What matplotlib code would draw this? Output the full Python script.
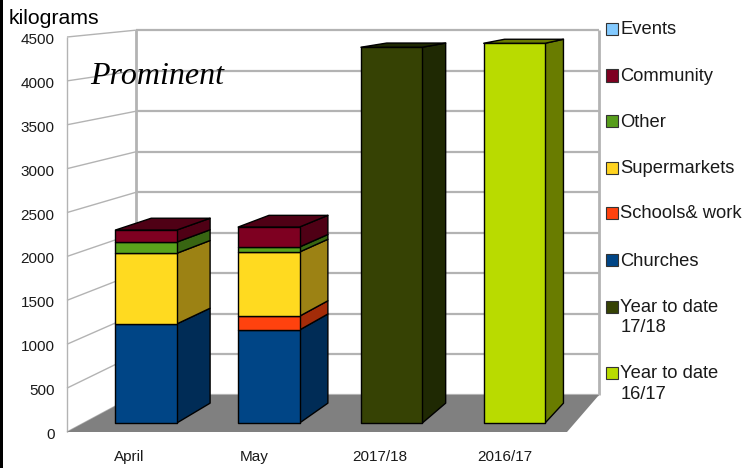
import matplotlib
matplotlib.use('Agg')
import matplotlib.pyplot as plt
from matplotlib.patches import Polygon, Rectangle
from matplotlib.transforms import ScaledTranslation

months = ['April', 'May', '2017/18', '2016/17']
y_ticks = [0, 500, 1000, 1500, 2000, 2500, 3000, 3500, 4000, 4500]

# stacked from the bottom up
churches = [1150, 1080, 0, 0]
schools = [0, 160, 0, 0]
supermarkets = [820, 745, 0, 0]
other = [130, 58, 0, 0]
community = [140, 232, 0, 0]
events = [0, 0, 0, 0]
ytd_1718 = [0, 0, 4362, 0]
ytd_1617 = [0, 0, 0, 4408]

series = [churches, schools, supermarkets, other, community, events, ytd_1718, ytd_1617]
front_colors = ['#004586', '#ff420e', '#ffda20', '#5aa31c', '#7e0021', '#83caff', '#364204', '#b9db00']
side_colors = ['#002c56', '#a32c09', '#9c8214', '#386512', '#4f0015', '#5a8db0', '#1f2903', '#697c00']

legend_labels = ['Events', 'Community', 'Other', 'Supermarkets', 'Schools& work', 'Churches',
                 'Year to date\n17/18', 'Year to date\n16/17']
legend_colors = ['#83caff', '#7e0021', '#579d1c', '#ffd320', '#ff420e', '#004586', '#364204', '#b9db00']
legend_rows = [29, 75.5, 121.5, 167.5, 213, 260, 306.5, 373]

W, H = 744, 468
fig = plt.figure(figsize=(W / 100, H / 100), dpi=100)
# the axes is the front plane of the fake 3d box
ax = fig.add_axes([67 / W, 1 - 432 / H, 500 / W, 395 / H])
ax.set_xlim(0, 4)
ax.set_ylim(0, 4500)
for s in ax.spines.values():
    s.set_visible(False)


def project(x, v, d):
    '''
    move a point of the front plane back by the depth d (0 front, 1 back wall)
    '''
    return x + d * (0.552 - 0.074 * x), v + d * (421.4 - 0.0763 * v)


def face(points, color, z, edge='black', lw=1.0):
    ax.add_patch(Polygon(points, closed=True, facecolor=color, edgecolor=edge,
                         linewidth=lw, joinstyle='round', zorder=z, clip_on=False))


def wall_line(p0, p1, z=1, lw=1.4):
    ax.plot([p0[0], p1[0]], [p0[1], p1[1]], color='#b3b3b3', lw=lw, zorder=z,
            clip_on=False, solid_capstyle='butt')


# walls
for t in y_ticks:
    wall_line(project(0, t, 0), project(0, t, 1), lw=1.0)
    wall_line(project(0, t, 1), project(4, t, 1), lw=1.6)
wall_line(project(0, 0, 0), project(0, 4500, 0), lw=1.0)
wall_line(project(0, 0, 1), project(0, 4500, 1), lw=2.0)
wall_line(project(4, 0, 1), project(4, 4500, 1), lw=2.0)

# floor
face([project(0, 0, 0), project(4, 0, 0), project(4, 0, 1), project(0, 0, 1)], '#808080', 2, edge='none', lw=0)

# bars
near, far = 0.243, 0.78
half = 0.25
z = 3
for i in range(len(months)):
    x0, x1 = i + 0.508 - half, i + 0.508 + half
    base = 0
    top_side = None
    for values, c, cs in zip(series, front_colors, side_colors):
        v = values[i]
        if v == 0:
            continue
        top = base + v
        face([project(x1, base, near), project(x1, base, far), project(x1, top, far), project(x1, top, near)], cs, z)
        face([project(x0, base, near), project(x1, base, near), project(x1, top, near), project(x0, top, near)], c, z + 0.1)
        base = top
        top_side = cs
    face([project(x0, base, near), project(x1, base, near), project(x1, base, far), project(x0, base, far)], top_side, z + 0.2)
    z += 1

# axis labels
ax.set_xticks([i + 0.5 for i in range(len(months))])
ax.set_xticklabels(months)
ax.set_yticks(y_ticks)
ax.tick_params(axis='x', length=0, pad=13, labelsize=11, labelcolor='#1a1a1a')
ax.tick_params(axis='y', length=0, pad=9, labelsize=11, labelcolor='#1a1a1a')
for lab in ax.get_xticklabels() + ax.get_yticklabels():
    lab.set_fontfamily('Liberation Sans')
# the value labels sit a little below their gridlines
nudge = ScaledTranslation(0, -1.5 / 100, fig.dpi_scale_trans)
for lab in ax.get_yticklabels():
    lab.set_transform(lab.get_transform() + nudge)

# legend, laid out by hand as in the original
for label, c, row in zip(legend_labels, legend_colors, legend_rows):
    fig.add_artist(Rectangle((606 / W, 1 - (row + 6) / H), 12 / W, 12 / H, transform=fig.transFigure,
                             facecolor=c, edgecolor='#333333', linewidth=0.8))
    fig.text(620.5 / W, 1 - (row - 7.5) / H, label, family='Liberation Sans', fontsize=13.2,
             color='#1a1a1a', va='top', ha='left', linespacing=1.25)

fig.text(9 / W, 1 - 19 / H, 'kilograms', family='Liberation Sans', fontsize=15.3, color='black', va='center')
fig.text(90 / W, 1 - 76 / H, 'Prominent', family='Liberation Serif', style='italic', fontsize=23,
         color='black', va='center', zorder=20)

# black strip along the left edge
fig.add_artist(Rectangle((0, 0), 3 / W, 1, transform=fig.transFigure, facecolor='black', edgecolor='none'))

fig.savefig('out.png', dpi=100)
